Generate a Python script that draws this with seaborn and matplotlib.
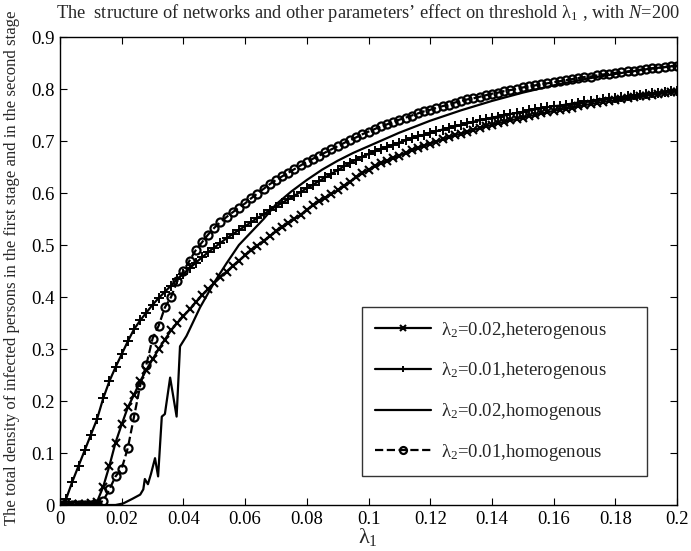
import numpy as np
import pandas as pd
import matplotlib
matplotlib.use("Agg")
import matplotlib.pyplot as plt
import seaborn as sns

# lambda_1 grid shared by the three marker curves
lam1 = np.round(np.arange(0, 0.2001, 0.002), 3)

# lambda_2 = 0.02, heterogenous  (x markers)
het_002 = [0, 0, 0.001, 0.001, 0.002, 0.003, 0.006, 0.035, 0.075, 0.12,
           0.155, 0.188, 0.212, 0.238, 0.26, 0.28, 0.30, 0.318, 0.336, 0.35,
           0.363, 0.376, 0.39, 0.403, 0.415, 0.427, 0.438, 0.449, 0.46, 0.47,
           0.48, 0.49, 0.499, 0.508, 0.517, 0.526, 0.534, 0.542, 0.55, 0.558,
           0.568, 0.576, 0.584, 0.591, 0.598, 0.605, 0.614, 0.622, 0.63, 0.638,
           0.645, 0.651, 0.657, 0.662, 0.667, 0.672, 0.677, 0.682, 0.687, 0.691,
           0.695, 0.699, 0.703, 0.707, 0.711, 0.714, 0.718, 0.721, 0.725, 0.728,
           0.731, 0.734, 0.737, 0.740, 0.742, 0.745, 0.748, 0.750, 0.753, 0.755,
           0.758, 0.760, 0.762, 0.764, 0.767, 0.769, 0.771, 0.773, 0.775, 0.777,
           0.778, 0.780, 0.782, 0.784, 0.786, 0.787, 0.789, 0.790, 0.792, 0.794,
           0.795]

# lambda_2 = 0.01, heterogenous  (+ markers)
het_001 = [0, 0.012, 0.045, 0.075, 0.105, 0.135, 0.165, 0.205, 0.238, 0.265,
           0.29, 0.315, 0.338, 0.355, 0.37, 0.385, 0.398, 0.41, 0.422, 0.434,
           0.445, 0.455, 0.466, 0.476, 0.486, 0.495, 0.504, 0.513, 0.521, 0.529,
           0.536, 0.544, 0.552, 0.559, 0.567, 0.574, 0.581, 0.588, 0.595, 0.602,
           0.609, 0.616, 0.623, 0.630, 0.637, 0.644, 0.651, 0.658, 0.664, 0.670,
           0.675, 0.680, 0.684, 0.689, 0.693, 0.697, 0.701, 0.705, 0.709, 0.712,
           0.716, 0.719, 0.722, 0.725, 0.728, 0.731, 0.734, 0.737, 0.740, 0.742,
           0.745, 0.747, 0.750, 0.752, 0.754, 0.756, 0.759, 0.761, 0.763, 0.765,
           0.767, 0.768, 0.770, 0.772, 0.774, 0.776, 0.777, 0.779, 0.780, 0.782,
           0.783, 0.785, 0.786, 0.788, 0.789, 0.791, 0.792, 0.793, 0.795, 0.796,
           0.797]

# lambda_2 = 0.01, homogenous  (circles, dashed)
hom_001 = [0, 0, 0, 0, 0, 0, 0.002, 0.008, 0.03, 0.055,
           0.07, 0.11, 0.17, 0.23, 0.27, 0.32, 0.345, 0.38, 0.40, 0.43,
           0.45, 0.47, 0.49, 0.505, 0.52, 0.533, 0.544, 0.554, 0.563, 0.572,
           0.580, 0.590, 0.599, 0.608, 0.617, 0.625, 0.632, 0.639, 0.646, 0.653,
           0.660, 0.666, 0.672, 0.678, 0.684, 0.690, 0.696, 0.702, 0.707, 0.713,
           0.718, 0.723, 0.728, 0.732, 0.737, 0.741, 0.745, 0.749, 0.753, 0.757,
           0.760, 0.764, 0.767, 0.770, 0.774, 0.777, 0.780, 0.782, 0.785, 0.788,
           0.791, 0.793, 0.796, 0.798, 0.800, 0.803, 0.805, 0.807, 0.809, 0.811,
           0.813, 0.815, 0.817, 0.819, 0.821, 0.823, 0.824, 0.826, 0.828, 0.829,
           0.831, 0.832, 0.834, 0.835, 0.837, 0.838, 0.840, 0.841, 0.842, 0.844,
           0.845]

# lambda_2 = 0.02, homogenous  (plain line, noisy near threshold)
lam1_hom002 = [0, 0.018, 0.0205, 0.0235, 0.026, 0.027, 0.0275, 0.0285, 0.0295,
               0.0308, 0.0318, 0.033, 0.034, 0.0357, 0.0378, 0.0389, 0.041,
               0.0454, 0.05, 0.054, 0.058, 0.062, 0.066, 0.07, 0.075, 0.08,
               0.085, 0.09, 0.095, 0.1, 0.11, 0.12, 0.13, 0.14, 0.15, 0.16,
               0.17, 0.18, 0.19, 0.2]
hom_002 = [0, 0, 0.003, 0.012, 0.02, 0.03, 0.05, 0.04, 0.06,
           0.09, 0.055, 0.17, 0.175, 0.245, 0.17, 0.305, 0.325,
           0.38, 0.428, 0.465, 0.5, 0.525, 0.55, 0.578, 0.603, 0.625,
           0.645, 0.662, 0.677, 0.69, 0.716, 0.739, 0.759, 0.777, 0.793, 0.807,
           0.819, 0.829, 0.838, 0.845]

labels = [r"$\lambda_2$=0.02,heterogenous", r"$\lambda_2$=0.01,heterogenous",
          r"$\lambda_2$=0.02,homogenous", r"$\lambda_2$=0.01,homogenous"]

xticks = [0, 0.02, 0.04, 0.06, 0.08, 0.1, 0.12, 0.14, 0.16, 0.18, 0.2]
xticklabels = ["0", "0.02", "0.04", "0.06", "0.08", "0.1", "0.12", "0.14",
               "0.16", "0.18", "0.2"]
yticks = [0, 0.1, 0.2, 0.3, 0.4, 0.5, 0.6, 0.7, 0.8, 0.9]
yticklabels = ["0", "0.1", "0.2", "0.3", "0.4", "0.5", "0.6", "0.7", "0.8", "0.9"]

sns.set_style("ticks")
plt.rcParams["font.family"] = ["Liberation Serif", "DejaVu Serif"]
plt.rcParams["mathtext.fontset"] = "custom"
plt.rcParams["mathtext.rm"] = "Liberation Serif"
plt.rcParams["mathtext.it"] = "Liberation Serif:italic"
plt.rcParams["mathtext.default"] = "regular"

fig = plt.figure(figsize=(6.91, 5.51), dpi=100)
ax = fig.add_axes([60 / 691, 1 - 505 / 551, 617 / 691, 468 / 551])

# seaborn paints marker edges white by default, so force black edges
sns.lineplot(x=lam1, y=het_002, ax=ax, color="k", lw=1.6, marker="x",
             markersize=5.5, markeredgewidth=1.5, markeredgecolor="k",
             label=labels[0])
sns.lineplot(x=lam1, y=het_001, ax=ax, color="k", lw=1.6, marker="+",
             markersize=7, markeredgewidth=1.4, markeredgecolor="k",
             label=labels[1])
sns.lineplot(x=lam1_hom002, y=hom_002, ax=ax, color="k", lw=1.6,
             label=labels[2])
sns.lineplot(x=lam1, y=hom_001, ax=ax, color="k", lw=1.6, ls="--", marker="o",
             markersize=5.8, markerfacecolor="none", markeredgecolor="k",
             markeredgewidth=1.6, label=labels[3])

ax.set_xlim(0, 0.2)
ax.set_ylim(0, 0.9)
ax.set_xticks(xticks)
ax.set_xticklabels(xticklabels)
ax.set_yticks(yticks)
ax.set_yticklabels(yticklabels)
ax.tick_params(direction="in", length=5, width=0.8, top=True, right=True,
               labelsize=13.5, colors="k", pad=4)
for sp in ax.spines.values():
    sp.set_linewidth(1.0)
    sp.set_color("k")
ax.set_xlabel("")
ax.set_ylabel("")

leg = ax.legend(loc="lower left", bbox_to_anchor=(0.4895, 0.062, 0.462, 0.35),
                mode="expand", borderaxespad=0, fontsize=13.5, frameon=True,
                fancybox=False, edgecolor="k", handlelength=3.0,
                labelspacing=1.05, borderpad=0.7, handletextpad=0.5,
                numpoints=1)
leg.get_frame().set_linewidth(1.0)
for h in leg.legend_handles:
    h.set_markersize(5)

fig.text(368 / 691, 1 - 13 / 551,
         r"The  structure of networks and other parameters’ effect on threshold $\lambda_1$ , with $\mathit{N}$=200",
         ha="center", va="center", fontsize=13.2)
fig.text(12 / 691, 1 - 268 / 551,
         "The total density of infected persons in the first stage and in the second stage",
         rotation=90, ha="center", va="center", fontsize=12.1)
fig.text(368 / 691, 1 - 537 / 551, r"$\lambda_1$", ha="center", va="center",
         fontsize=16)

fig.savefig("out.png", dpi=100)
